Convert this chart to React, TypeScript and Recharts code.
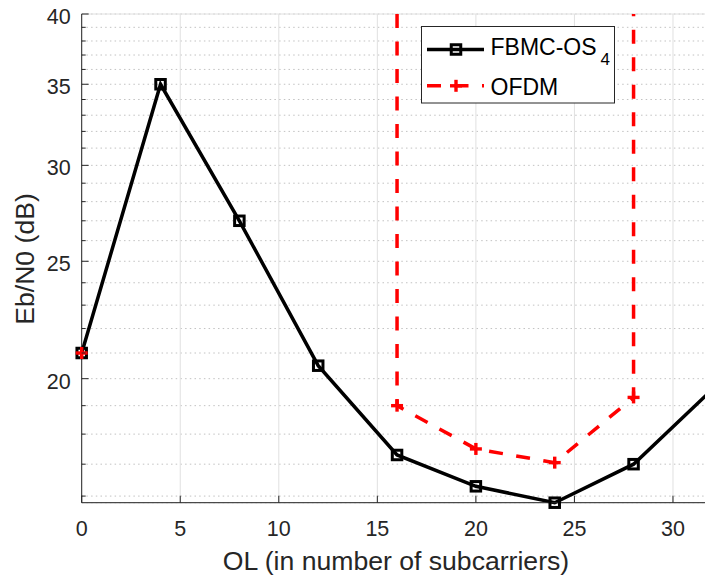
import React from 'react';
import { LineChart, Line, XAxis, YAxis, CartesianGrid, Label } from 'recharts';

// ---- data -------------------------------------------------------------
const olTicks = [0, 5, 10, 15, 20, 25, 30];
const ebn0MajorTicks = [20, 25, 30, 35, 40];
const ebn0MinorTicks = [16, 17, 18, 19, 20, 21, 22, 23, 24, 25, 26, 27, 28, 29, 30, 31, 32, 33, 34, 35, 36, 37, 38, 39, 40];

const fbmcOL = [0, 4, 8, 12, 16, 20, 24, 28, 32];
const fbmcEbN0 = [21.0, 35.0, 27.0, 20.5, 17.3, 16.3, 15.8, 17.0, 19.6];

// OFDM: no value at 4..12 and 32; at 16 and 28 the curve leaves the top of the axis (off-scale, read as 40)
const ofdmOL = [0, 4, 8, 12, 16, 16, 20, 24, 28, 28, 32];
const ofdmEbN0: (number | null)[] = [21.0, null, null, null, 40, 19.0, 17.5, 17.05, 19.3, 40, null];

const X_DOMAIN: [number, number] = [0, 32];
const Y_DOMAIN: [number, number] = [15.8, 40];

const fbmcData = fbmcOL.map((ol, i) => ({ ol, ebn0: fbmcEbN0[i] }));
const ofdmData = ofdmOL.map((ol, i) => ({ ol, ebn0: ofdmEbN0[i] }));

// ---- styles -----------------------------------------------------------
const FONT = '"Liberation Sans", Arial, Helvetica, sans-serif';
const TEXT = '#262626';
const AXIS = '#262626';
const DASH = '14 13.5';

const BottomTick = (p: any) => {
  const { x, y, payload } = p;
  return (
    <g>
      <line x1={x} y1={y} x2={x} y2={y - 7} stroke={AXIS} strokeWidth={1} />
      <text x={x} y={y + 33.5} textAnchor="middle" fontFamily={FONT} fontSize={21.5} fill={TEXT}>
        {payload.value}
      </text>
    </g>
  );
};

const TopTick = (p: any) => {
  const { x, y } = p;
  return <line x1={x} y1={y} x2={x} y2={y + 7} stroke={AXIS} strokeWidth={1} />;
};

const YTick = (p: any) => {
  const { x, y, payload } = p;
  const major = ebn0MajorTicks.includes(payload.value);
  if (!major) {
    return <line x1={x} y1={y} x2={x + 4} y2={y} stroke={AXIS} strokeWidth={1} />;
  }
  return (
    <g>
      <line x1={x} y1={y} x2={x + 7} y2={y} stroke={AXIS} strokeWidth={1} />
      <text x={x - 11} y={y + 10} textAnchor="end" fontFamily={FONT} fontSize={21.5} fill={TEXT}>
        {payload.value}
      </text>
    </g>
  );
};

const squareDot = (p: any) => {
  const { cx, cy, index, value } = p;
  if (cy == null || value == null || Number.isNaN(cy)) return <g key={`s${index}`} />;
  const s = 9.5;
  return (
    <rect key={`s${index}`} x={cx - s / 2} y={cy - s / 2} width={s} height={s}
      fill="none" stroke="#000" strokeWidth={3} />
  );
};

const plusDot = (p: any) => {
  const { cx, cy, index, value } = p;
  if (cy == null || value == null || Number.isNaN(cy) || value >= Y_DOMAIN[1]) return <g key={`p${index}`} />;
  const h = 6;
  return (
    <g key={`p${index}`}>
      <line x1={cx - h} y1={cy} x2={cx + h} y2={cy} stroke="#ff0000" strokeWidth={3.4} />
      <line x1={cx} y1={cy - h} x2={cx} y2={cy + h} stroke="#ff0000" strokeWidth={3.4} />
    </g>
  );
};

const Legend = () => (
  <svg width={195} height={78} style={{ position: 'absolute', left: 421.2, top: 26.2 }}>
    <rect x={0.5} y={0.5} width={193} height={76.5} fill="#fff" stroke={AXIS} strokeWidth={1} />
    <line x1={6} y1={23.5} x2={63} y2={23.5} stroke="#000" strokeWidth={3.5} />
    <rect x={30.25} y={18.75} width={9.5} height={9.5} fill="none" stroke="#000" strokeWidth={3} />
    <text x={69.5} y={28.8} fontFamily={FONT} fontSize={23} fill="#000">
      FBMC-OS
      <tspan fontSize={17} dx={4} dy={10}>4</tspan>
    </text>
    <line x1={6} y1={59.8} x2={63} y2={59.8} stroke="#ff0000" strokeWidth={3.5} strokeDasharray={DASH} />
    <line x1={29} y1={59.8} x2={41} y2={59.8} stroke="#ff0000" strokeWidth={3.4} />
    <line x1={35} y1={53.8} x2={35} y2={65.8} stroke="#ff0000" strokeWidth={3.4} />
    <text x={69.5} y={68.8} fontFamily={FONT} fontSize={23} fill="#000">OFDM</text>
  </svg>
);

export default function App() {
  return (
    <div style={{ position: 'fixed', left: 0, top: 0, width: 705, height: 576, overflow: 'hidden', background: '#fff' }}>
      <LineChart width={720} height={590} margin={{ top: 14, right: 7.6, bottom: 7.3, left: 0 }}>
        <XAxis xAxisId="b" dataKey="ol" type="number" domain={X_DOMAIN} ticks={olTicks} interval={0}
          height={80} tickSize={0} tickMargin={0} tick={BottomTick}
          axisLine={{ stroke: AXIS, strokeWidth: 1 }} tickLine={false}>
          <Label content={() => (
            <text x={396} y={570} textAnchor="middle" fontFamily={FONT} fontSize={26.6} fill={TEXT}>
              OL (in number of subcarriers)
            </text>
          )} />
        </XAxis>
        <XAxis xAxisId="t" orientation="top" dataKey="ol" type="number" domain={X_DOMAIN} ticks={olTicks} interval={0}
          height={0} tickSize={0} tickMargin={0} tick={TopTick}
          axisLine={{ stroke: AXIS, strokeWidth: 1 }} tickLine={false} />
        <YAxis yAxisId="main" type="number" scale="log" domain={Y_DOMAIN} ticks={ebn0MinorTicks} interval={0}
          width={81.7} tickSize={0} tickMargin={0} tick={YTick}
          axisLine={{ stroke: AXIS, strokeWidth: 1 }} tickLine={false}>
          <Label content={() => (
            <text x={34} y={259} transform="rotate(-90, 34, 259)" textAnchor="middle" fontFamily={FONT}
              fontSize={26.6} fill={TEXT}>
              Eb/N0 (dB)
            </text>
          )} />
        </YAxis>
        <YAxis yAxisId="major" hide type="number" scale="log" domain={Y_DOMAIN} ticks={ebn0MajorTicks} interval={0} />
        <CartesianGrid xAxisId="b" yAxisId="main" vertical={false} stroke="#c2c2c2" strokeDasharray="1.5 3.2" />
        <CartesianGrid xAxisId="b" yAxisId="major" stroke="#e0e0e0" />
        <Line xAxisId="b" yAxisId="main" data={fbmcData} dataKey="ebn0" stroke="#000" strokeWidth={3.5}
          dot={squareDot} activeDot={false} isAnimationActive={false} legendType="none" />
        <Line xAxisId="b" yAxisId="main" data={ofdmData} dataKey="ebn0" stroke="#ff0000" strokeWidth={3.5}
          strokeDasharray={DASH} dot={plusDot} activeDot={false} isAnimationActive={false} legendType="none" />
      </LineChart>
      <Legend />
    </div>
  );
}
